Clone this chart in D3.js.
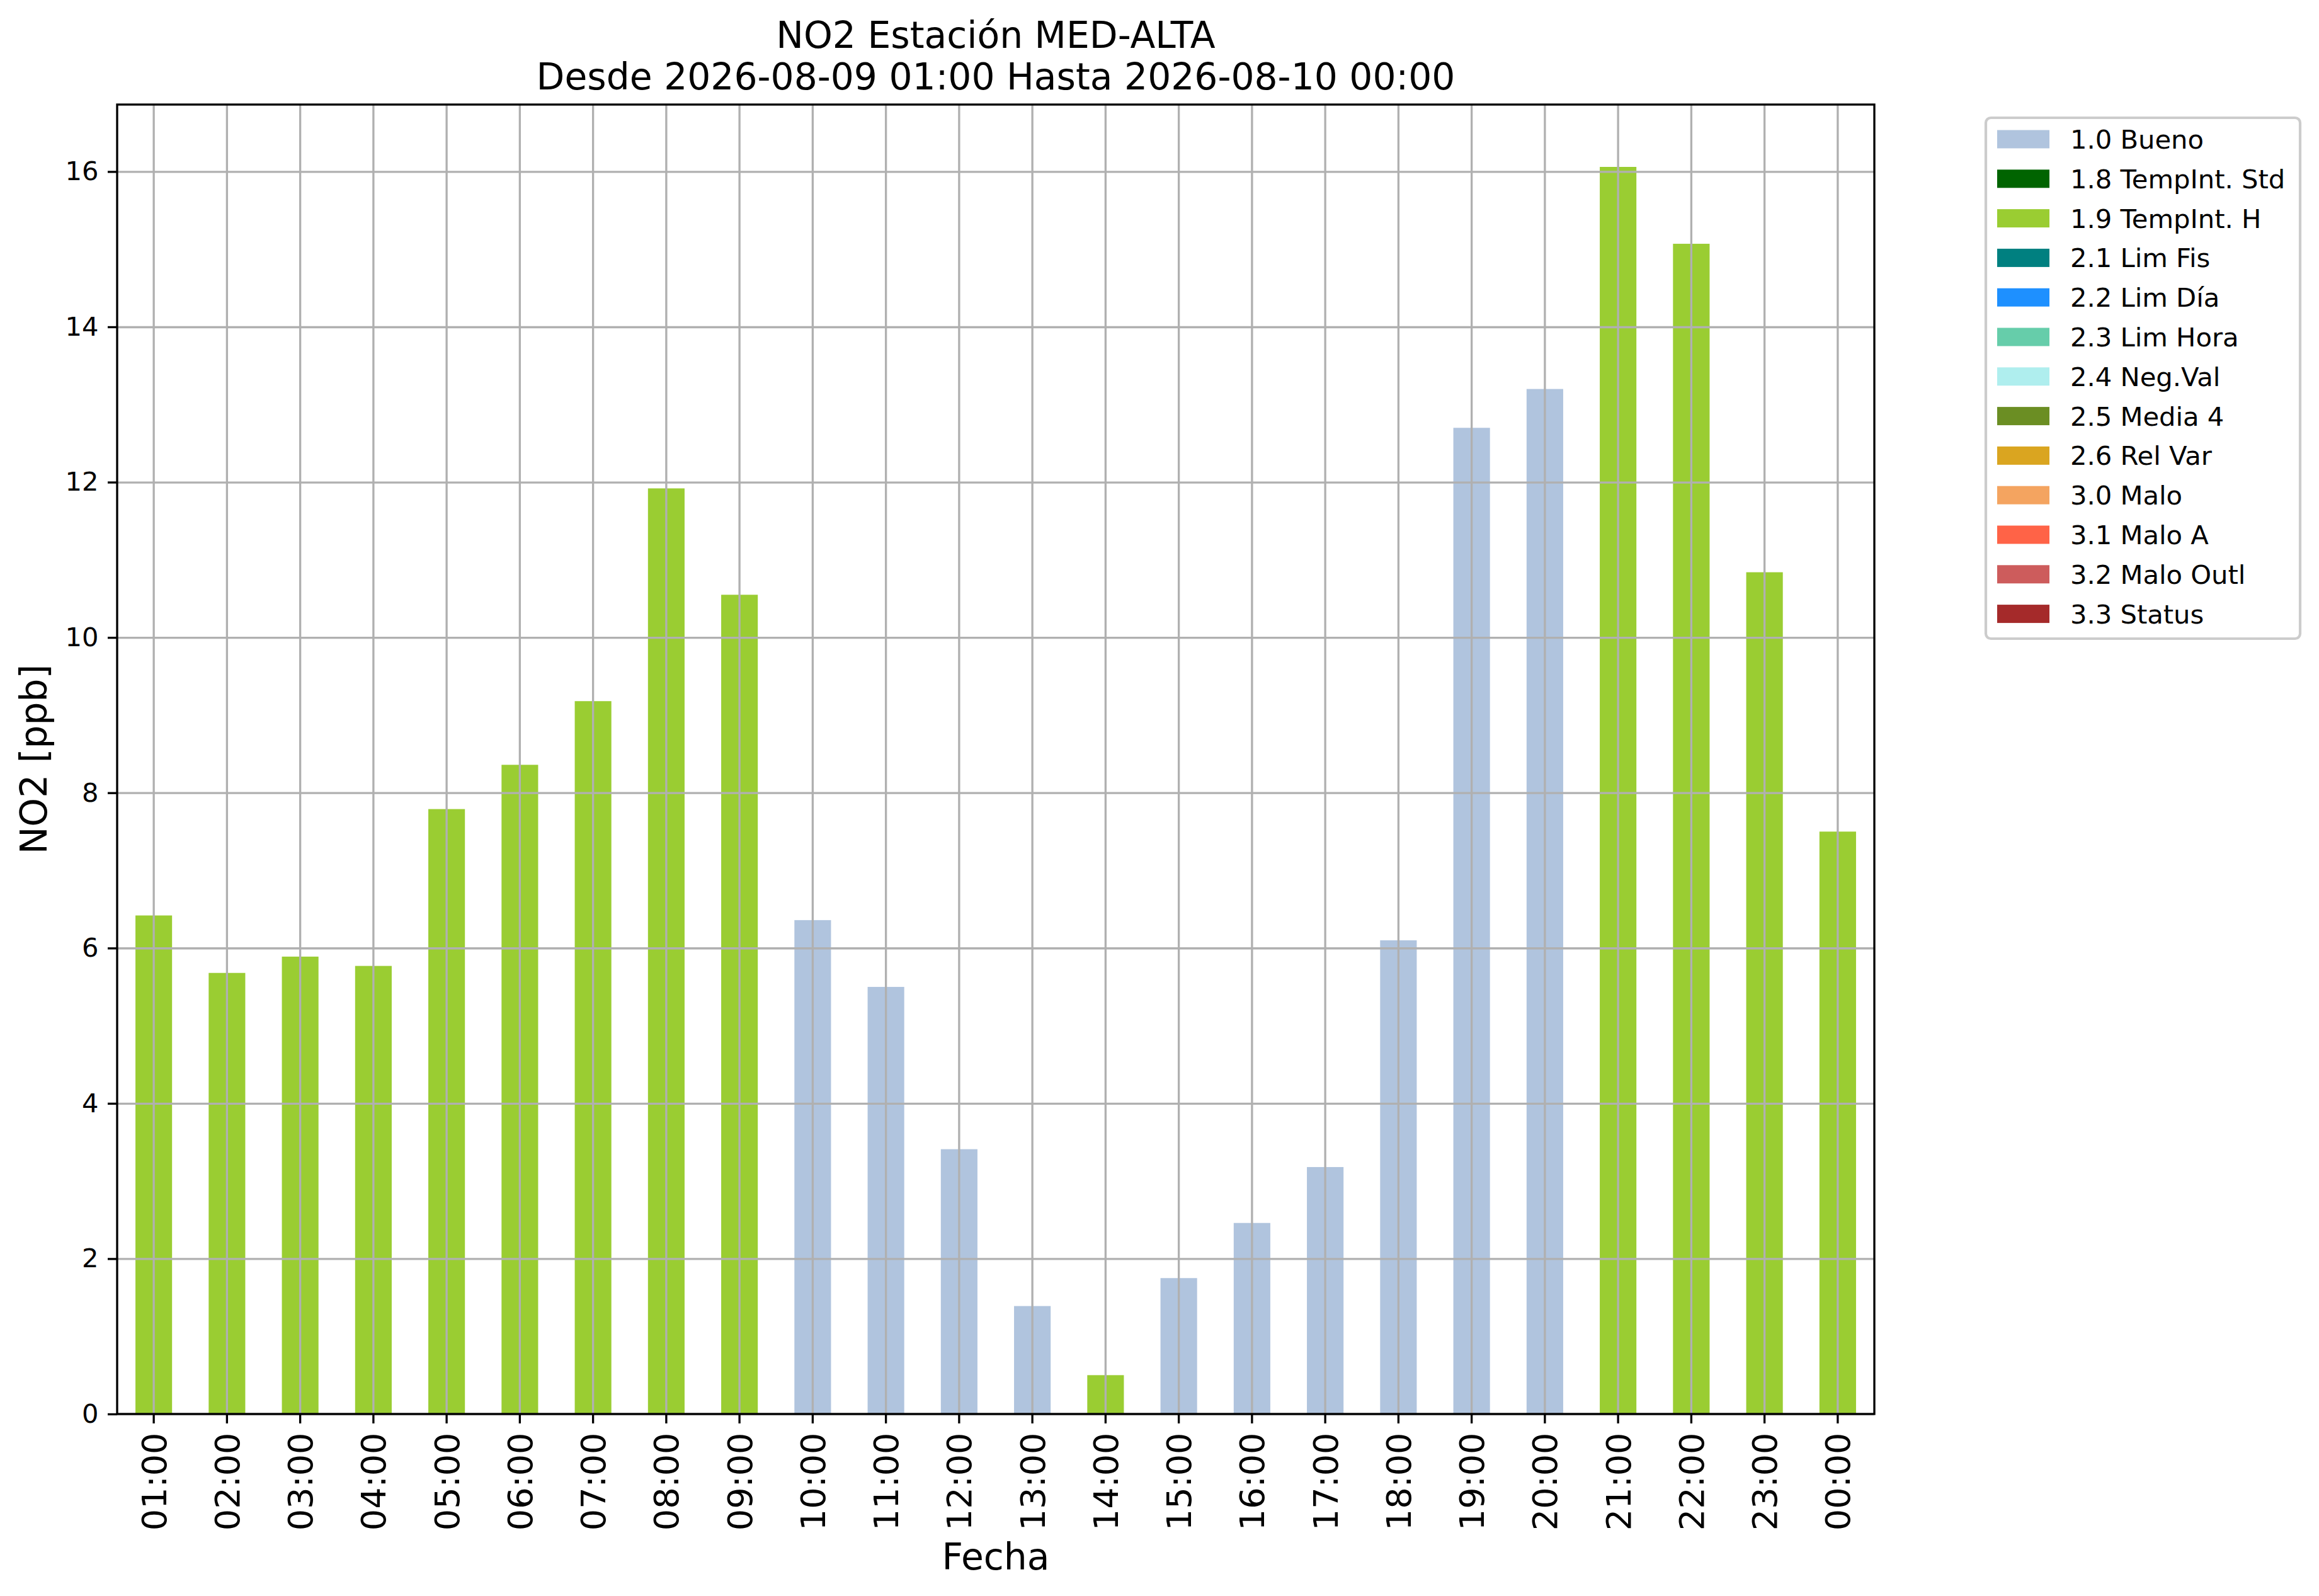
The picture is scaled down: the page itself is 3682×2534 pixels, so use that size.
<!DOCTYPE html>
<html>
<head>
<meta charset="utf-8">
<script src="https://cdn.jsdelivr.net/npm/d3@7"></script>
<style>
  body { margin: 0; background: #fff; }
  text { font-family: "DejaVu Sans", sans-serif; }
</style>
</head>
<body>
<svg id="chart" width="3682" height="2534"></svg>
<script>
// hourly NO2 values
const hours = ["01:00","02:00","03:00","04:00","05:00","06:00","07:00","08:00","09:00","10:00","11:00","12:00",
               "13:00","14:00","15:00","16:00","17:00","18:00","19:00","20:00","21:00","22:00","23:00","00:00"];
const values = [6.42, 5.68, 5.89, 5.77, 7.79, 8.36, 9.18, 11.92, 10.55, 6.36, 5.50, 3.41,
                1.39, 0.50, 1.75, 2.46, 3.18, 6.10, 12.70, 13.20, 16.06, 15.07, 10.84, 7.50];
// quality flag of each hour
const flags = ["1.9","1.9","1.9","1.9","1.9","1.9","1.9","1.9","1.9","1.0","1.0","1.0",
               "1.0","1.9","1.0","1.0","1.0","1.0","1.0","1.0","1.9","1.9","1.9","1.9"];

const categories = ["1.0","1.8","1.9","2.1","2.2","2.3","2.4","2.5","2.6","3.0","3.1","3.2","3.3"];
const catLabels = ["1.0 Bueno","1.8 TempInt. Std","1.9 TempInt. H","2.1 Lim Fis","2.2 Lim Día","2.3 Lim Hora",
                   "2.4 Neg.Val","2.5 Media 4","2.6 Rel Var","3.0 Malo","3.1 Malo A","3.2 Malo Outl","3.3 Status"];
const catColors = ["#b0c4de","#006400","#9acd32","#008080","#1e90ff","#66cdaa",
                   "#afeeee","#6b8e23","#daa520","#f4a460","#ff6347","#cd5c5c","#a52a2a"];
const yTicks = [0, 2, 4, 6, 8, 10, 12, 14, 16];

const svg = d3.select("#chart");

const pLeft = 186, pRight = 2976, pTop = 166, pBottom = 2245;
const fs = 41.67; // 10pt at 300 dpi

// one row per hour, one column per flag (like a pivot table)
let table = hours.map((h, i) => {
  let row = {hour: h};
  categories.forEach(c => { row[c] = flags[i] == c ? values[i] : 0; });
  return row;
});

const x = d3.scaleBand()
  .domain(hours)
  .range([pLeft, pRight])
  .paddingInner(0.5)
  .paddingOuter(0.25);

const y = d3.scaleLinear()
  .domain([0, d3.max(values) * 1.05])
  .range([pBottom, pTop]);

const color = d3.scaleOrdinal().domain(categories).range(catColors);

const stacked = d3.stack().keys(categories)(table);

// bars
svg.append("g")
  .selectAll("g")
  .data(stacked)
  .join("g")
    .attr("fill", d => color(d.key))
  .selectAll("rect")
  .data(d => d)
  .join("rect")
    .attr("x", d => x(d.data.hour))
    .attr("y", d => y(d[1]))
    .attr("width", x.bandwidth())
    .attr("height", d => y(d[0]) - y(d[1]));

// grid on top of bars
const grid = svg.append("g").attr("class", "grid");
grid.append("g")
  .attr("transform", `translate(0,${pBottom})`)
  .call(d3.axisBottom(x).tickSize(-(pBottom - pTop)).tickFormat(""));
grid.append("g")
  .attr("transform", `translate(${pLeft},0)`)
  .call(d3.axisLeft(y).tickValues(yTicks).tickSize(-(pRight - pLeft)).tickFormat(""));
grid.selectAll("path.domain").remove();
grid.selectAll("line").attr("stroke", "#b0b0b0").attr("stroke-width", 3.33);

// axes
const yAxis = svg.append("g")
  .attr("transform", `translate(${pLeft},0)`)
  .call(d3.axisLeft(y).tickValues(yTicks).tickSize(15).tickPadding(14.6));
yAxis.selectAll("text").attr("font-size", fs).attr("fill", "#000");

const xAxis = svg.append("g")
  .attr("transform", `translate(0,${pBottom})`)
  .call(d3.axisBottom(x).tickSize(15).tickPadding(0));
xAxis.selectAll("text")
  .attr("font-size", 54)
  .attr("fill", "#000")
  .attr("text-anchor", "end")
  .attr("transform", "translate(0,29.6) rotate(-90)")
  .attr("x", 0)
  .attr("y", 0)
  .attr("dy", "0.36em");

[yAxis, xAxis].forEach(a => {
  a.selectAll("path.domain").remove();
  a.selectAll("line").attr("stroke", "#000").attr("stroke-width", 3.33);
});

// frame
svg.append("rect")
  .attr("x", pLeft)
  .attr("y", pTop)
  .attr("width", pRight - pLeft)
  .attr("height", pBottom - pTop)
  .attr("fill", "none")
  .attr("stroke", "#000")
  .attr("stroke-width", 3.33);

// titles and labels
const cx = (pLeft + pRight) / 2;
svg.append("text")
  .attr("x", cx).attr("y", 76)
  .attr("text-anchor", "middle")
  .attr("font-size", 58.3)
  .text("NO2 Estación MED-ALTA");
svg.append("text")
  .attr("x", cx).attr("y", 142)
  .attr("text-anchor", "middle")
  .attr("font-size", 58.3)
  .text("Desde 2026-08-09 01:00 Hasta 2026-08-10 00:00");

svg.append("text")
  .attr("x", cx).attr("y", 2492)
  .attr("text-anchor", "middle")
  .attr("font-size", 58.3)
  .text("Fecha");

svg.append("text")
  .attr("transform", `translate(74,${(pTop + pBottom) / 2}) rotate(-90)`)
  .attr("text-anchor", "middle")
  .attr("font-size", 58.3)
  .text("NO2 [ppb]");

// legend
const lg = svg.append("g").attr("transform", "translate(3153,187)");
lg.append("rect")
  .attr("width", 499)
  .attr("height", 827)
  .attr("rx", 8)
  .attr("fill", "#fff")
  .attr("fill-opacity", 0.8)
  .attr("stroke", "#cccccc")
  .attr("stroke-width", 4.2);

const items = lg.selectAll("g.item")
  .data(categories)
  .join("g")
    .attr("class", "item")
    .attr("transform", (d, i) => `translate(0,${34 + i * 62.8})`);
items.append("rect")
  .attr("x", 18)
  .attr("y", -14.5)
  .attr("width", 83)
  .attr("height", 29)
  .attr("fill", d => color(d));
items.append("text")
  .attr("x", 134)
  .attr("dy", "0.36em")
  .attr("font-size", fs)
  .text((d, i) => catLabels[i]);
</script>
</body>
</html>
